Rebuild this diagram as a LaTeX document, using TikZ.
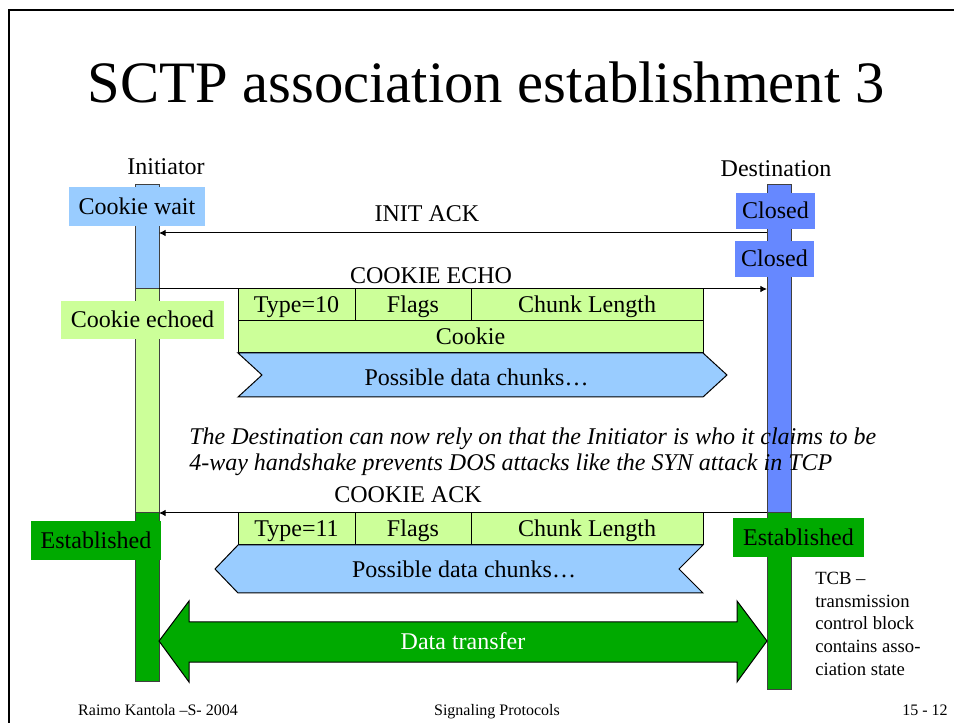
\documentclass[tikz,border=0pt]{standalone}
\usepackage{fontspec}
\setmainfont{Liberation Serif}
\usepackage{tikz}
\usetikzlibrary{arrows.meta}
\newdimen\px
\px=0.75pt
\definecolor{waitblue}{RGB}{153,204,255}
\definecolor{echogreen}{RGB}{204,255,153}
\definecolor{estgreen}{RGB}{0,170,0}
\definecolor{closedblue}{RGB}{102,136,255}
\tikzset{
  txt/.style={font=\fontsize{18}{21}\selectfont},
  state/.style={txt, inner sep=0pt, text height=13.5pt, text depth=1.5pt},
  lifebar/.style={draw=black!75, line width=1\px},
  msg/.style={draw, line width=1\px, -{Latex[length=5pt,width=5pt]}},
  msglbl/.style={txt, anchor=base},
  cell/.style={state, draw, fill=echogreen, line width=1\px, minimum height=32\px},
  chunk/.style={draw, fill=waitblue, line width=1\px},
  footer/.style={anchor=base, font=\fontsize{12}{14}\selectfont},
}

\begin{document}
\begin{tikzpicture}[x=0.75pt, y=-0.75pt]
\useasboundingbox (0,0) rectangle (954,723);
\draw[line width=2\px] (954,10) -- (9,10) -- (9,723);

\node[anchor=base, font=\fontsize{44}{50}\selectfont] (title) at (486,103) {SCTP association establishment 3};

\node[msglbl] (initiator) at (166,175) {Initiator};
\node[msglbl] (destination) at (776,177) {Destination};

\draw[lifebar, fill=waitblue] (135,185) rectangle (159,289);
\draw[lifebar, fill=echogreen] (135,289) rectangle (159,513);
\draw[lifebar, fill=estgreen] (135,513) rectangle (159,681);
\draw[lifebar, fill=closedblue] (767,185) rectangle (791,513);
\draw[lifebar, fill=estgreen] (767,513) rectangle (791,689);

\node[state, fill=waitblue, minimum width=136\px, minimum height=39\px] (wait) at (137,206.5) {Cookie wait};
\node[state, fill=echogreen, minimum width=163\px, minimum height=38\px] (echoed) at (142.5,320) {Cookie echoed};
\node[state, fill=closedblue, minimum width=79\px, minimum height=36\px] (closed1) at (775.5,211) {Closed};
\node[state, fill=closedblue, minimum width=79\px, minimum height=36\px] (closed2) at (774.5,259) {Closed};

\coordinate (ini-initack) at (159,233);
\coordinate (dst-initack) at (767,233);
\coordinate (ini-echo) at (159,289);
\coordinate (dst-echo) at (767,289);
\coordinate (ini-ack) at (159,513);
\coordinate (dst-ack) at (767,513);

\draw[msg] (dst-initack) -- (ini-initack);
\node[msglbl] (initack) at (427,222) {INIT ACK};
\draw[msg] (ini-echo) -- (dst-echo);
\node[msglbl] (echo) at (431,284) {COOKIE ECHO};

\node[cell, minimum width=117\px] (type10) at (296.5,305) {Type=10};
\node[cell, minimum width=116\px] (flags10) at (413,305) {Flags};
\node[cell, minimum width=232\px] (len10) at (587,305) {Chunk Length};
\node[cell, minimum width=465\px] (cookie) at (470.5,337) {Cookie};
\draw[chunk] (238,353) -- (703,353) -- (727,375) -- (703,397) -- (238,397) -- (262,375) -- cycle;
\node[msglbl] (data10) at (476.5,386) {Possible data chunks\dots};

\node[txt, anchor=base west, inner sep=0pt, font=\fontsize{18}{21}\selectfont\itshape] (rely) at (189,445) {The Destination can now rely on that the Initiator is who it claims to be};
\node[txt, anchor=base west, inner sep=0pt, font=\fontsize{18}{21}\selectfont\itshape] (dos) at (189,471) {4-way handshake prevents DOS attacks like the SYN attack in TCP};

\draw[msg] (dst-ack) -- (ini-ack);
\node[msglbl] (ack) at (408,503) {COOKIE ACK};

\node[cell, minimum width=117\px] (type11) at (296.5,529) {Type=11};
\node[cell, minimum width=116\px] (flags11) at (413,529) {Flags};
\node[cell, minimum width=232\px] (len11) at (587,529) {Chunk Length};
\draw[chunk] (238,545) -- (703,545) -- (679,569) -- (703,593) -- (238,593) -- (215,569) -- cycle;
\node[msglbl] (data11) at (464,578) {Possible data chunks\dots};

\node[state, fill=estgreen, minimum width=130\px, minimum height=39\px] (estini) at (96,540.5) {Established};
\node[state, fill=estgreen, minimum width=131\px, minimum height=39\px] (estdst) at (798.5,537.5) {Established};

\draw[fill=estgreen, line width=1\px] (159,641) -- (189,601) -- (189,622) -- (737,622) -- (737,601) -- (767,641) -- (737,682) -- (737,662) -- (189,662) -- (189,682) -- cycle;
\node[msglbl, text=white] (transfer) at (463,649) {Data transfer};

\node[anchor=north west, inner sep=0pt, align=left, font=\fontsize{14}{17}\selectfont] (tcb) at (815,572) {TCB --\\transmission\\control block\\contains asso-\\ciation state};

\node[footer] (author) at (158,715) {Raimo Kantola --S- 2004};
\node[footer] (course) at (497,715) {Signaling Protocols};
\node[footer] (page) at (925,715) {15 - 12};
\end{tikzpicture}
\end{document}
